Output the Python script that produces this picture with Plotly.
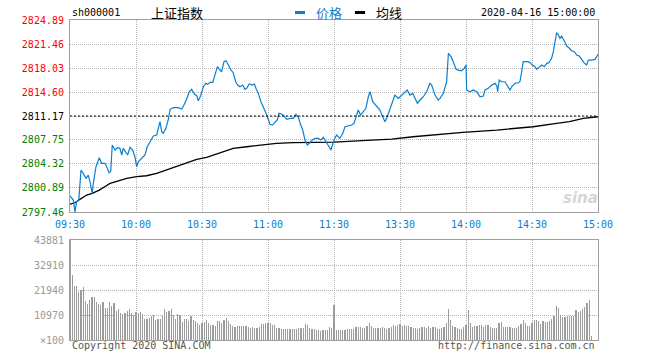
import plotly.graph_objects as go

# ---------------- data ----------------
prev_close = 2811.17
symbol = "sh000001"
name = "上证指数"
stamp = "2020-04-16 15:00:00"

price_ticks = [2797.46, 2800.89, 2804.32, 2807.75, 2811.17, 2814.60, 2818.03, 2821.46, 2824.89]
pct_labels = ["-0.49%", "-0.37%", "-0.24%", "-0.12%", "0.00%", "+0.12%", "+0.24%", "+0.37%", "+0.49%"]
time_ticks = [0, 30, 60, 90, 120, 150, 180, 210, 240]
time_labels = ["09:30", "10:00", "10:30", "11:00", "11:30", "13:30", "14:00", "14:30", "15:00"]
vol_ticks = [0, 10970, 21940, 32910, 43881]
vol_labels = ["×100", "10970", "21940", "32910", "43881"]

# minutes since 09:30 (trading minutes) and price readings
price_min = [0, 1.5, 2.3, 3, 4, 5, 6, 7.3, 8.3, 9.1, 10.1, 10.6, 11.8, 13.3, 14.4, 15.9, 16.7, 17.7,
             18.5, 19.2, 20.5, 21.5, 22.7, 23.5, 24.2, 25.3, 26.2, 27.3, 28.5, 29.5, 30.3, 31, 32.6,
             34.1, 35.1, 36.7, 37.9, 39.4, 40.9, 41.7, 42.4, 43.6, 44.7, 45.5, 47, 49.2, 50.8, 51.8,
             53, 54.2, 55.3, 56.5, 57.6, 58.3, 59.4, 60.6, 61.7, 62.6, 63.6, 64.9, 65.9, 67, 67.9,
             68.9, 70, 70.9, 72, 73, 74.2, 75.3, 76.2, 77.3, 78.5, 79.5, 80.3, 81.5, 82.9, 83.8,
             84.5, 85.6, 86.8, 87.9, 89, 90.1, 90.9, 92, 93.2, 94.2, 95, 96.2, 97.3, 98.5, 100,
             101.5, 102.7, 103.8, 104.9, 105.8, 106.8, 107.9, 108.8, 110.1, 111.4, 112.9, 114,
             115.1, 116.4, 117.9, 118.6, 120, 121.2, 122.7, 124, 125, 126.5, 128, 129.1, 130, 131,
             132.1, 133.3, 134.5, 135.6, 136.4, 137.6, 138.6, 139.7, 140.9, 142.1, 143.2, 144.2,
             145.5, 146.7, 147.7, 149.2, 150.8, 152.3, 153.3, 154.5, 155.8, 156.8, 157.9, 159.1,
             160.6, 162.1, 163.6, 164.4, 165.9, 167.4, 168.2, 169.7, 171.2, 172, 173.2, 174.2,
             175.5, 176.5, 178, 179.2, 180, 180.3, 181.8, 183.3, 184.9, 186.4, 187.9, 188.6, 190.1,
             191.7, 193.2, 194, 194.4, 195.1, 196.2, 197.7, 199.2, 200, 201, 202.3, 203.8, 204.5,
             205.3, 206, 207.6, 209.1, 210.1, 211.4, 212.1, 213.3, 214.4, 215.6, 216.7, 217.7,
             218.9, 219.7, 220.5, 221.2, 222, 222.7, 223.5, 224.5, 225.8, 227, 228, 229.2, 230.3,
             231.5, 232.6, 233.6, 234.8, 235.6, 237.1, 238.6, 239.4, 240]
price_val = [2799.78, 2799.16, 2797.49, 2798.92, 2799.16, 2803.45, 2802.98, 2802.27, 2802.74, 2801.78,
             2800.12, 2801.55, 2803.92, 2805.21, 2804.41, 2804.41, 2803.92, 2803.07, 2803.21, 2807.03,
             2806.31, 2806.64, 2806.55, 2805.60, 2806.55, 2805.93, 2805.60, 2806.70, 2806.31, 2805.35,
             2803.92, 2804.64, 2805.12, 2805.60, 2806.78, 2807.74, 2808.31, 2808.46, 2810.36, 2808.93,
             2808.70, 2809.41, 2810.70, 2812.13, 2812.36, 2812.36, 2812.17, 2812.74, 2813.56, 2814.64,
             2814.99, 2814.31, 2814.07, 2813.36, 2814.07, 2815.36, 2815.84, 2815.70, 2815.99, 2815.99,
             2817.03, 2818.22, 2817.84, 2817.50, 2818.93, 2819.07, 2818.46, 2817.84, 2817.36, 2816.07,
             2815.60, 2815.36, 2815.60, 2814.99, 2815.13, 2815.74, 2815.60, 2815.74, 2815.13, 2814.41,
             2813.21, 2812.27, 2811.64, 2810.70, 2809.98, 2809.88, 2810.21, 2810.60, 2811.56, 2811.46,
             2811.17, 2810.70, 2810.84, 2810.84, 2811.41, 2810.98, 2809.88, 2809.17, 2807.74, 2807.03,
             2807.27, 2807.74, 2807.98, 2807.98, 2807.74, 2808.13, 2807.50, 2806.55, 2806.31, 2807.74,
             2808.46, 2807.98, 2808.70, 2809.64, 2809.79, 2809.88, 2810.13, 2811.07, 2812.03, 2811.31,
             2811.78, 2812.27, 2813.93, 2814.64, 2813.21, 2812.89, 2812.50, 2812.03, 2811.07, 2810.36,
             2811.07, 2812.27, 2813.46, 2814.17, 2813.70, 2814.17, 2814.64, 2814.89, 2814.17, 2814.41,
             2813.70, 2812.98, 2813.46, 2813.93, 2814.64, 2815.84, 2815.60, 2814.17, 2813.46, 2813.70,
             2814.41, 2816.07, 2820.13, 2819.65, 2818.93, 2817.84, 2817.74, 2817.64, 2817.98, 2818.46,
             2814.89, 2814.64, 2814.89, 2814.64, 2813.93, 2814.03, 2814.89, 2815.13, 2815.60, 2815.84,
             2815.46, 2814.64, 2816.32, 2816.07, 2816.07, 2815.36, 2814.89, 2815.46, 2815.84, 2815.93,
             2816.07, 2817.50, 2818.93, 2818.93, 2818.84, 2818.46, 2818.22, 2817.84, 2818.13, 2818.46,
             2818.22, 2818.70, 2818.79, 2819.42, 2820.36, 2821.79, 2823.08, 2822.75, 2822.27, 2822.60,
             2822.03, 2821.17, 2820.85, 2820.50, 2820.36, 2819.89, 2819.74, 2819.17, 2818.79, 2818.46,
             2819.17, 2819.17, 2819.27, 2819.65, 2820.03]

avg_min = [0, 2.3, 4.5, 7.6, 10.1, 13.3, 16.3, 18.2, 22, 25.8, 30.3, 34.8, 39.4, 43.9, 48.5, 53,
           57.6, 62.1, 66.7, 71.2, 74.2, 80.3, 86.4, 93.9, 101.5, 109.1, 117.9, 120, 135, 146.2,
           155.9, 168.2, 178.6, 194, 203, 210.5, 221.2, 227, 233.3, 240]
avg_val = [2798.59, 2798.78, 2799.27, 2799.88, 2800.12, 2800.59, 2801.17, 2801.55, 2801.92, 2802.27,
           2802.50, 2802.64, 2802.98, 2803.45, 2804.02, 2804.50, 2804.98, 2805.27, 2805.74, 2806.21,
           2806.55, 2806.78, 2807.03, 2807.27, 2807.36, 2807.41, 2807.41, 2807.45, 2807.70, 2807.88,
           2808.21, 2808.56, 2808.84, 2809.17, 2809.41, 2809.64, 2810.13, 2810.36, 2810.84, 2811.07]

# volume per trading minute (x100 shares)
volume = [43881, 28390, 23830, 23830, 21060, 21940, 23260, 16970, 15800, 17550,
          18720, 18720, 16670, 15940, 15360, 16530, 14040, 14040, 16670, 14920,
          16240, 12730, 13600, 11850, 11560, 11850, 12730, 13750, 11990, 10830,
          12140, 11850, 12140, 11410, 9210, 9210, 9800, 10680, 10970, 8920,
          9360, 9360, 10970, 13600, 12430, 12730, 13600, 10970, 9210, 11260,
          10970, 7900, 9210, 9210, 8190, 10680, 8630, 8190, 7460, 6440,
          7460, 7900, 8920, 7460, 6730, 6440, 6140, 8190, 8190, 7310,
          8920, 9510, 8190, 7020, 6140, 5700, 6140, 6140, 6140, 6140,
          6140, 5700, 5410, 5700, 5410, 5410, 5850, 7020, 7020, 7310,
          7600, 7460, 6730, 6440, 5410, 5120, 4830, 4680, 4680, 4830,
          4830, 4830, 4830, 4680, 5270, 5270, 5270, 6870, 6580, 5410,
          4970, 4680, 4240, 4530, 4100, 4390, 4390, 4390, 5700, 5270,
          15300, 4390, 4390, 4390, 4390, 4390, 4830, 4830, 4830, 4830,
          5700, 5700, 5700, 5120, 5270, 6140, 7460, 6140, 5270, 5270,
          5270, 5270, 5700, 5270, 4970, 5270, 5700, 6440, 6140, 6440,
          6870, 6000, 6580, 6140, 6000, 5560, 5270, 5270, 4970, 5270,
          5700, 5700, 5410, 6140, 5270, 5700, 5700, 4970, 4970, 5270,
          5700, 7460, 13750, 8780, 6140, 5700, 5120, 4970, 4970, 5700,
          6730, 13160, 7460, 5700, 6140, 6140, 6440, 6440, 5700, 6580,
          6440, 5700, 5270, 5270, 5270, 7460, 7900, 5700, 5700, 5700,
          5850, 5410, 5270, 5270, 6140, 7020, 8780, 7460, 6140, 6140,
          7460, 8780, 8780, 8190, 7020, 8190, 7750, 7900, 8480, 9210,
          10680, 14920, 14040, 10970, 10090, 10090, 10530, 10530, 10530, 10530,
          13160, 12290, 12580, 13460, 14620, 16380, 17550, 1760, 0, 0,
          0]
vol_min = list(range(len(volume)))

# ---------------- styling ----------------
MONO = "DejaVu Sans Mono"
CJK = "Noto Sans CJK SC"
RED, GREEN, BLACK = "#ff0000", "#008000", "#000000"
BLUE = "#0a7fd0"
GRID = "#b4b4b4"
FRAME = "#a0a0a0"


def col(v):
    if abs(v - prev_close) < 0.005:
        return BLACK
    return RED if v > prev_close else GREEN


left_text = ['<span style="color:%s">%.2f</span>' % (col(v), v) for v in price_ticks]
right_text = ['<span style="color:%s">%s</span>' % (col(v), t) for v, t in zip(price_ticks, pct_labels)]

fig = go.Figure()
fig.add_trace(go.Scatter(x=avg_min, y=avg_val, mode="lines", line=dict(color="#000000", width=1.3),
                         xaxis="x", yaxis="y", showlegend=False, hoverinfo="skip"))
fig.add_trace(go.Scatter(x=price_min, y=price_val, mode="lines", line=dict(color=BLUE, width=1.2),
                         xaxis="x", yaxis="y", showlegend=False, hoverinfo="skip"))
fig.add_trace(go.Bar(x=vol_min, y=volume, width=0.5, marker=dict(color="#9c9c9c", line=dict(width=0)),
                     xaxis="x2", yaxis="y3", showlegend=False, hoverinfo="skip"))

axis_common = dict(showline=True, linecolor=FRAME, linewidth=1, mirror=True,
                   showgrid=True, gridcolor=GRID, griddash="1px,1px", gridwidth=1,
                   zeroline=False, fixedrange=True)

fig.update_layout(
    width=660, height=360, autosize=False,
    margin=dict(l=70, r=62, t=20, b=20, pad=0),
    paper_bgcolor="white", plot_bgcolor="white",
    font=dict(family=MONO, size=10, color="#000"),
    bargap=0,
    xaxis=dict(domain=[0, 1], anchor="y", range=[0, 240], tickvals=time_ticks, ticktext=time_labels,
               tickfont=dict(color=BLUE, size=10, family=MONO), ticks="outside", ticklen=3,
               tickcolor="rgba(0,0,0,0)", **axis_common),
    xaxis2=dict(domain=[0, 1], anchor="y3", range=[0, 240], tickvals=time_ticks,
                showticklabels=False, ticks="", **axis_common),
    yaxis=dict(domain=[0.4, 1], anchor="x", range=[price_ticks[0], price_ticks[-1]],
               tickvals=price_ticks, ticktext=left_text, ticks="outside", ticklen=3,
               tickcolor="rgba(0,0,0,0)", tickfont=dict(size=10, family=MONO), **axis_common),
    yaxis2=dict(overlaying="y", anchor="x", side="right", range=[price_ticks[0], price_ticks[-1]],
                tickvals=price_ticks, ticktext=right_text, ticks="outside", ticklen=3,
                tickcolor="rgba(0,0,0,0)", tickfont=dict(size=10, family=MONO),
                showgrid=False, showline=False, zeroline=False, fixedrange=True),
    yaxis3=dict(domain=[0, 0.3125], anchor="x2", range=[0, vol_ticks[-1]], tickvals=vol_ticks,
                ticktext=vol_labels, ticks="outside", ticklen=3, tickcolor="rgba(0,0,0,0)",
                tickfont=dict(size=10, family=MONO, color="#999999"), **axis_common),
)

# previous close reference line
fig.add_shape(type="line", xref="x domain", yref="y", x0=0, x1=1, y0=prev_close, y1=prev_close,
              line=dict(color="#000", width=1, dash="2px,2px"))

# header texts
fig.add_annotation(xref="paper", yref="paper", x=0, y=1.0219, text=symbol, showarrow=False,
                   xanchor="left", yanchor="middle", font=dict(family=MONO, size=10, color="#000"))
fig.add_annotation(xref="paper", yref="paper", x=0.2021, y=1.0234, text=name, showarrow=False,
                   xanchor="center", yanchor="middle", font=dict(family=CJK, size=13, color="#000"))
fig.add_annotation(xref="paper", yref="paper", x=0.999, y=1.0219, text=stamp, showarrow=False,
                   xanchor="right", yanchor="middle", font=dict(family=MONO, size=10, color="#000"))
# legend
fig.add_shape(type="line", xref="paper", yref="paper", x0=0.4261, x1=0.4451, y0=1.0234, y1=1.0234,
              line=dict(color=BLUE, width=3))
fig.add_annotation(xref="paper", yref="paper", x=0.462, y=1.0234, text="价格", showarrow=False,
                   xanchor="left", yanchor="middle", font=dict(family=CJK, size=13, color=BLUE))
fig.add_shape(type="line", xref="paper", yref="paper", x0=0.5398, x1=0.5587, y0=1.0234, y1=1.0234,
              line=dict(color="#000", width=3))
fig.add_annotation(xref="paper", yref="paper", x=0.5757, y=1.0234, text="均线", showarrow=False,
                   xanchor="left", yanchor="middle", font=dict(family=CJK, size=13, color="#000"))
# footer
fig.add_annotation(xref="paper", yref="paper", x=0, y=-0.0172, text="Copyright 2020 SINA.COM",
                   showarrow=False, xanchor="left", yanchor="middle",
                   font=dict(family=MONO, size=10, color="#555"))
fig.add_annotation(xref="paper", yref="paper", x=0.999, y=-0.0172, text="http://finance.sina.com.cn",
                   showarrow=False, xanchor="right", yanchor="middle",
                   font=dict(family=MONO, size=10, color="#555"))
# watermark
fig.add_annotation(xref="paper", yref="paper", x=0.966, y=0.445, text="<b><i>sina</i></b>",
                   showarrow=False, xanchor="center", yanchor="middle",
                   font=dict(family="DejaVu Sans", size=15, color="#d6d6d6"))

fig.write_html("out.html", config={"displayModeBar": False, "staticPlot": True})
